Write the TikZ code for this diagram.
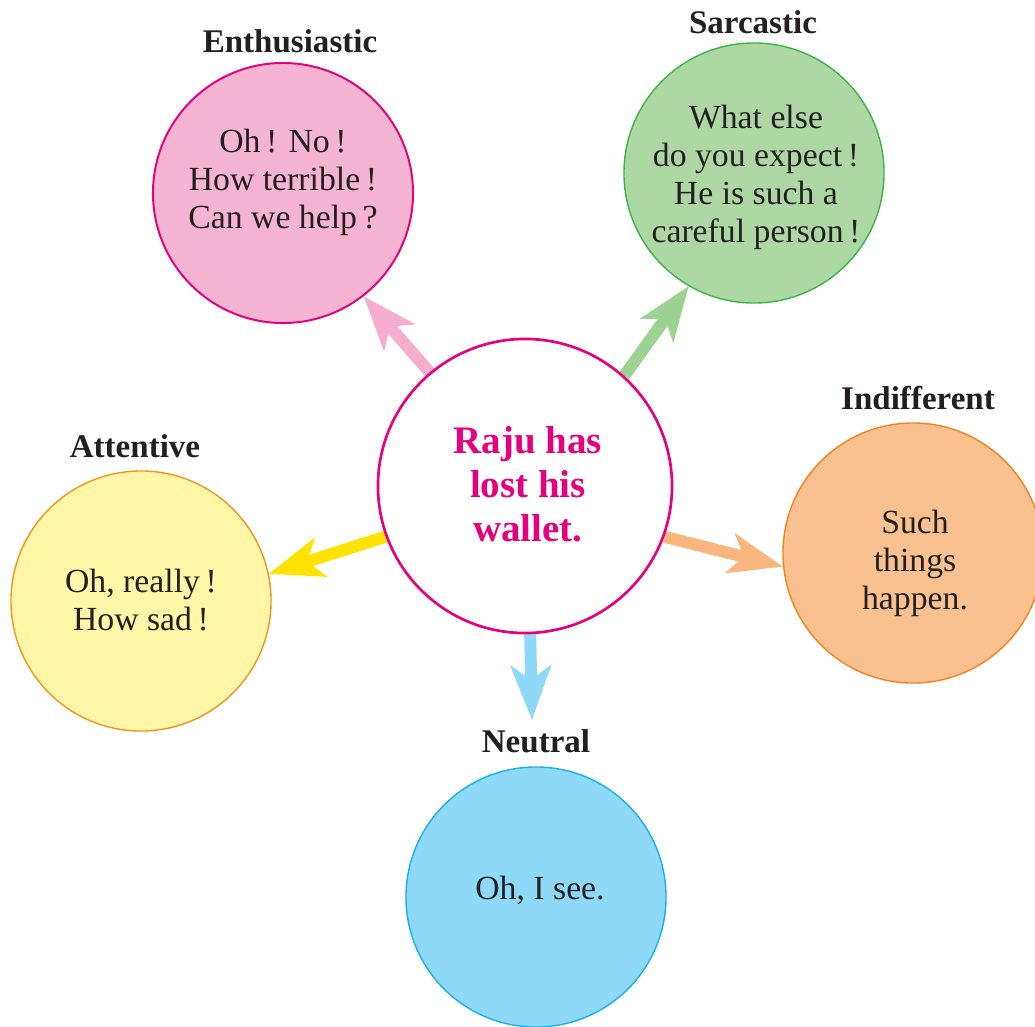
\documentclass[tikz,border=0pt]{standalone}
\usepackage{fontspec}
\setmainfont{Liberation Serif}
\usetikzlibrary{arrows.meta,backgrounds}

\definecolor{inkgrey}{HTML}{231F20}
\definecolor{rajupink}{HTML}{E5007E}
\definecolor{enthfill}{HTML}{F5B4D2}
\definecolor{sarcfill}{HTML}{ADD8A4}
\definecolor{sarcline}{HTML}{3BB54A}
\definecolor{indfill}{HTML}{F9C18F}
\definecolor{indline}{HTML}{F58220}
\definecolor{neutfill}{HTML}{8ED8F8}
\definecolor{neutline}{HTML}{1AB0EC}
\definecolor{attfill}{HTML}{FFF6A8}
\definecolor{attline}{HTML}{F7941D}
\definecolor{pinkarrow}{HTML}{F5AECE}
\definecolor{greenarrow}{HTML}{9DD392}
\definecolor{orangearrow}{HTML}{F9B67D}
\definecolor{yellowarrow}{HTML}{FFE300}
\definecolor{bluearrow}{HTML}{8ED8F8}

\begin{document}
\begin{tikzpicture}[x=0.025cm, y=-0.025cm,
  mood/.style={circle, draw, line width=1pt, minimum size=6.5cm, inner sep=0pt},
  say/.style={align=center, text=inkgrey, font=\fontsize{24}{27}\selectfont},
  head/.style={anchor=base, text=inkgrey, font=\fontsize{23.5}{27}\selectfont\bfseries},
  feel/.style={line width=0.3cm, -{Stealth[length=1.35cm, width=1.0cm, inset=0.35cm]}}]
  \useasboundingbox (0,0) rectangle (1035,1027);

  % the five reactions and the news in the middle
  \node[mood, draw=rajupink, fill=enthfill, line width=1.4pt] (enth) at (283,193) {};
  \node[mood, draw=sarcline, fill=sarcfill] (sarc) at (754,173) {};
  \node[mood, draw=indline, fill=indfill] (indiff) at (913,553) {};
  \node[mood, draw=neutline, fill=neutfill] (neut) at (536,897) {};
  \node[mood, draw=attline, fill=attfill] (attent) at (141,601) {};
  \node[mood, draw=rajupink, fill=white, line width=1.9pt, minimum size=7.35cm] (ctr) at (525,486) {};
  \coordinate (neuttip) at (532,720);

  \node[say] (enthtxt) at (283,182) {Oh\,! No\,!\\How terrible\,!\\Can we help\,?};
  \node[say] (sarctxt) at (756,177) {What else\\do you expect\,!\\He is such a\\careful person\,!};
  \node[say] (indifftxt) at (915,563) {Such\\things\\happen.};
  \node[say] (attenttxt) at (141,600) {Oh, really\,!\\How sad\,!};
  \node[say] (neuttxt) at (540,890) {Oh, I see.};
  \node[say, text=rajupink, font=\fontsize{27.7}{31.3}\selectfont\bfseries] (ctrtxt) at (528,484) {Raju has\\lost his\\wallet.};

  % labels
  \node[head] (enthlbl) at (290,52) {Enthusiastic};
  \node[head] (sarclbl) at (753,33) {Sarcastic};
  \node[head] (indifflbl) at (918,409) {Indifferent};
  \node[head] (attentlbl) at (135,457) {Attentive};
  \node[head] (neutlbl) at (536,752) {Neutral};

  % arrows, behind the circles
  \begin{scope}[on background layer]
    \draw[feel, color=pinkarrow] (ctr.130) -- (enth.-52);
    \draw[feel, color=greenarrow] (ctr.48) -- (sarc.240);
    \draw[feel, color=orangearrow] (ctr.-20) -- (indiff.186);
    \draw[feel, color=yellowarrow] (ctr.200) -- (attent.12);
    \draw[feel, color=bluearrow] (ctr.-88) -- (neuttip);
  \end{scope}
\end{tikzpicture}
\end{document}
